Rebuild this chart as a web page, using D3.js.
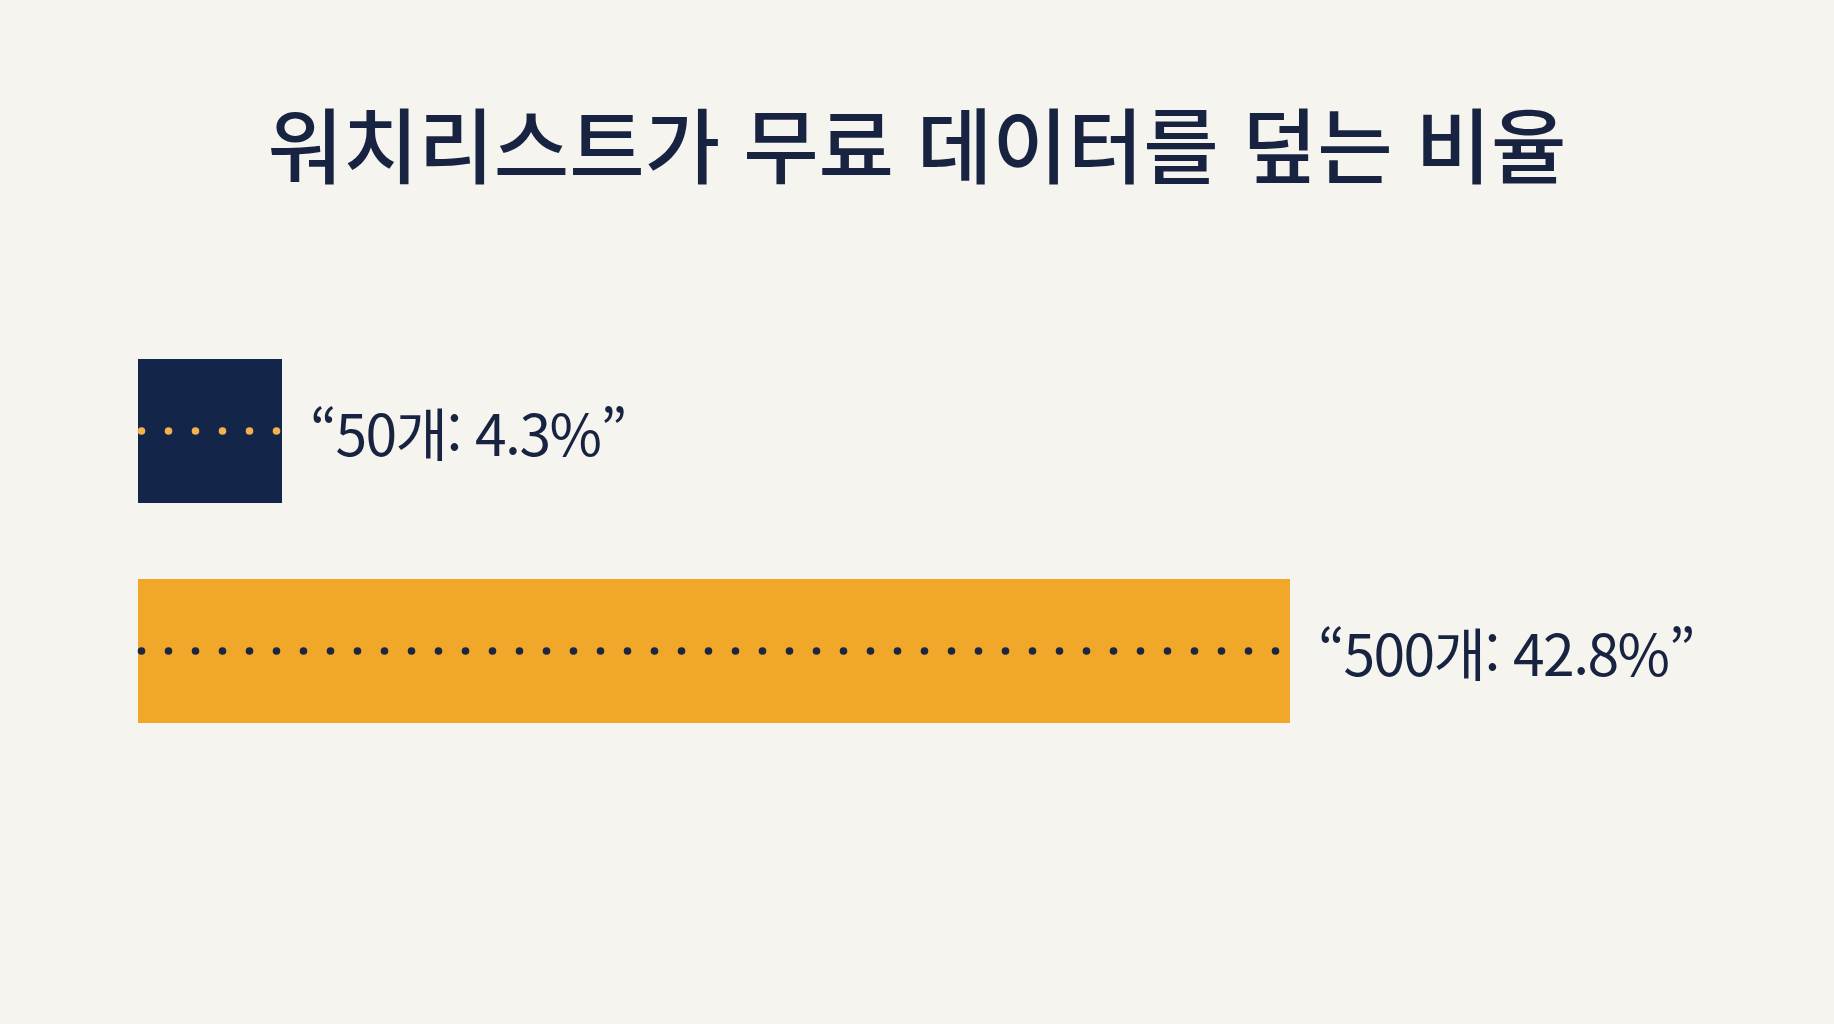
<!DOCTYPE html>
<html lang="ko">
<head>
<meta charset="utf-8">
<script src="https://cdn.jsdelivr.net/npm/d3@7"></script>
<style>
  html, body { margin: 0; padding: 0; background: #f5f4ee; }
  svg { display: block; }
</style>
</head>
<body>
<svg id="chart"></svg>
<script>
// chart data
const title = "워치리스트가 무료 데이터를 덮는 비율";
const categories = ["50개", "500개"];
const shares = [4.3, 42.8];

document.addEventListener("DOMContentLoaded", () => {
    const width = 1834;
    const height = 1024;
    const font = "'Noto Sans CJK KR', 'Noto Sans', sans-serif";
    const navy = "#14254a";
    const orange = "#f0a72a";

    const svg = d3.select("#chart")
        .attr("width", width)
        .attr("height", height);

    svg.append("rect")
        .attr("width", width)
        .attr("height", height)
        .attr("fill", "#f5f4ee");

    // title
    svg.append("text")
        .attr("x", width / 2)
        .attr("y", 177)
        .attr("text-anchor", "middle")
        .attr("font-family", font)
        .attr("font-size", 82)
        .attr("font-weight", 500)
        .attr("fill", "#172340")
        .text(title);

    // scales (the picture does not start the bars at zero exactly)
    const x = d3.scaleLinear()
        .domain([-1.2, d3.max(shares)])
        .range([138, 1290]);

    const y = d3.scaleBand()
        .domain(categories)
        .range([359, 723])
        .paddingInner(76 / 220)
        .paddingOuter(0);

    const data = categories.map((c, i) => ({ cat: c, value: shares[i], i }));
    const fill = d => d.i === 0 ? navy : orange;
    const dotFill = d => d.i === 0 ? "#f2b24c" : "#1b2742";

    const rows = svg.selectAll("g.row")
        .data(data)
        .join("g")
        .attr("class", "row");

    rows.append("rect")
        .attr("x", x.range()[0])
        .attr("y", d => y(d.cat))
        .attr("width", d => x(d.value) - x.range()[0])
        .attr("height", y.bandwidth())
        .attr("fill", fill);

    // dotted centre line inside each bar
    rows.each(function(d) {
        const x0 = x.range()[0];
        const x1 = x(d.value);
        const cy = y(d.cat) + y.bandwidth() / 2;
        d3.select(this).selectAll("circle")
            .data(d3.range(x0 + 3.5, x1, 27))
            .join("circle")
            .attr("cx", v => v)
            .attr("cy", cy)
            .attr("r", 3.8)
            .attr("fill", dotFill(d));
    });

    // value labels
    rows.append("text")
        .attr("x", d => x(d.value) + 28)
        .attr("y", d => y(d.cat) + y.bandwidth() / 2)
        .attr("dominant-baseline", "central")
        .attr("font-family", font)
        .attr("font-size", 57)
        .attr("letter-spacing", -1.6)
        .attr("fill", "#172340")
        .text(d => `\u201C${d.cat}: ${d.value}%\u201D`);
});
</script>
</body>
</html>
